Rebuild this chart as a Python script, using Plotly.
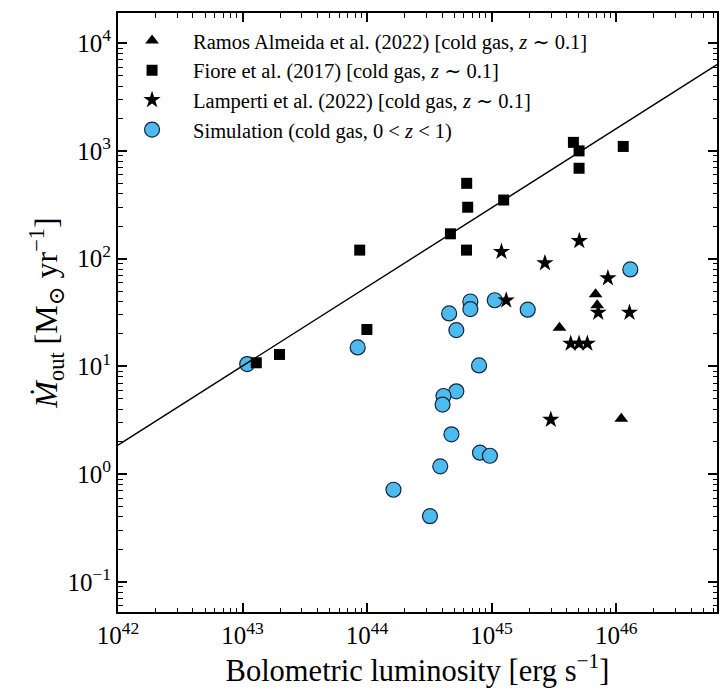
import plotly.graph_objects as go

# Ramos Almeida et al. (2022): bolometric luminosity [erg/s] and outflow rate [Msun/yr]
ramos_L = [6.84e45, 7.05e45, 3.51e45, 1.10e46]
ramos_mdot = [46.8, 37.0, 22.8, 3.27]

# Fiore et al. (2017)
fiore_L = [4.54e45, 5.04e45, 5.04e45, 1.14e46, 6.31e44, 6.43e44, 1.25e45,
           4.67e44, 8.73e43, 6.29e44, 9.97e43, 1.98e43, 1.29e43]
fiore_mdot = [1200, 1000, 690, 1100, 500, 300, 350,
              170, 120, 120, 22, 12.9, 10.8]

# Lamperti et al. (2022)
lamperti_L = [1.20e45, 5.06e45, 2.68e45, 8.59e45, 1.31e45, 7.18e45, 1.28e46,
              4.32e45, 5.04e45, 5.87e45, 2.99e45]
lamperti_mdot = [116, 146, 91, 66, 41, 31.6, 31.6,
                 16.3, 16.3, 16.3, 3.2]

# Simulation (cold gas, 0 < z < 1)
sim_L = [1.09e43, 8.41e43, 4.56e44, 6.75e44, 6.75e44, 1.06e45, 1.95e45,
         1.30e46, 5.21e44, 7.93e44, 5.21e44, 4.11e44, 4.04e44, 4.76e44,
         8.07e44, 9.69e44, 3.87e44, 1.63e44, 3.20e44]
sim_mdot = [10.5, 15.0, 31.0, 40.0, 34.0, 41.1, 33.6,
            79.4, 21.7, 10.2, 5.87, 5.31, 4.42, 2.34,
            1.58, 1.48, 1.18, 0.716, 0.407]

# Scaling relation endpoints
rel_L = [1e42, 1e47]
rel_mdot = [1.86, 8700]

# Axis ticks
x_tickvals = [1e42, 1e43, 1e44, 1e45, 1e46]
x_ticktext = ["10<sup>42</sup>", "10<sup>43</sup>", "10<sup>44</sup>",
              "10<sup>45</sup>", "10<sup>46</sup>"]
y_tickvals = [0.1, 1, 10, 100, 1000, 10000]
y_ticktext = ["10<sup>−1</sup>", "10<sup>0</sup>", "10<sup>1</sup>",
              "10<sup>2</sup>", "10<sup>3</sup>", "10<sup>4</sup>"]

FONT = "Liberation Serif, DejaVu Serif, serif"

fig = go.Figure()

fig.add_trace(go.Scatter(
    x=sim_L, y=sim_mdot, mode="markers",
    name="Simulation (cold gas, 0 &lt; <i>z</i> &lt; 1)",
    marker=dict(symbol="circle", size=15, color="#4dbbee",
                line=dict(color="#15243a", width=1.2)),
    legendrank=4,
))

fig.add_trace(go.Scatter(
    x=rel_L, y=rel_mdot, mode="lines",
    line=dict(color="black", width=1.4),
    showlegend=False, hoverinfo="skip",
))

fig.add_trace(go.Scatter(
    x=ramos_L, y=ramos_mdot, mode="markers",
    name="Ramos Almeida et al. (2022) [cold gas, <i>z</i> ∼ 0.1]",
    marker=dict(symbol="triangle-up", size=12, color="black"),
    legendrank=1,
))

fig.add_trace(go.Scatter(
    x=fiore_L, y=fiore_mdot, mode="markers",
    name="Fiore et al. (2017) [cold gas, <i>z</i> ∼ 0.1]",
    marker=dict(symbol="square", size=11, color="black"),
    legendrank=2,
))

fig.add_trace(go.Scatter(
    x=lamperti_L, y=lamperti_mdot, mode="markers",
    name="Lamperti et al. (2022) [cold gas, <i>z</i> ∼ 0.1]",
    marker=dict(symbol="star", size=13, color="black"),
    legendrank=3,
))

axis_common = dict(
    type="log",
    showline=True, linecolor="black", linewidth=2, mirror="allticks",
    ticks="inside", ticklen=9, tickwidth=1.6, tickcolor="black",
    showgrid=False, zeroline=False,
    tickfont=dict(family=FONT, size=25, color="black"),
    minor=dict(ticks="inside", ticklen=4.5, tickwidth=1.2,
               tickcolor="black", showgrid=False, dtick="D1"),
)

fig.update_xaxes(
    **axis_common,
    range=[42, 46.81],
    tickmode="array", tickvals=x_tickvals, ticktext=x_ticktext,
    title=dict(text="Bolometric luminosity [erg s<sup>−1</sup>]",
               font=dict(family=FONT, size=30.5, color="black"), standoff=6),
)
fig.update_yaxes(
    **axis_common,
    range=[-1.28, 4.28],
    tickmode="array", tickvals=y_tickvals, ticktext=y_ticktext,
    title=dict(text="<i>Ṁ</i><sub>out</sub> [M<sub>⊙</sub> yr<sup>−1</sup>]",
               font=dict(family=FONT, size=32, color="black"), standoff=0),
)

fig.update_layout(
    width=725, height=690,
    margin=dict(l=118, r=6, t=13, b=78),
    paper_bgcolor="white", plot_bgcolor="white",
    font=dict(family=FONT, color="black"),
    legend=dict(
        x=-0.0116, y=0.987, xanchor="left", yanchor="top",
        bgcolor="rgba(0,0,0,0)", borderwidth=0,
        font=dict(family=FONT, size=20.5, color="black"),
        itemwidth=72, tracegroupgap=0,
    ),
)

fig.write_html("out.html")
